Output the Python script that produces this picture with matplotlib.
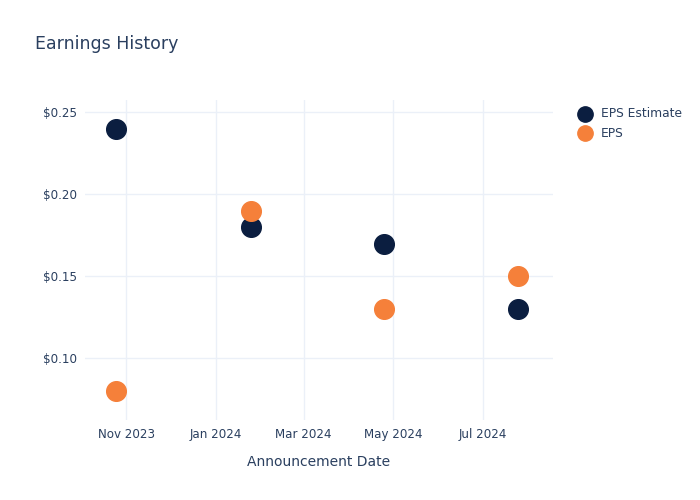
import numpy as np
import matplotlib.pyplot as plt
import matplotlib.dates as mdates
import matplotlib.ticker as mticker

dates = np.array(['2023-10-25', '2024-01-25', '2024-04-25', '2024-07-25'], dtype='datetime64[D]')
eps_estimate = [0.24, 0.18, 0.17, 0.13]
eps_actual = [0.08, 0.19, 0.13, 0.15]

text_color = '#2a3f5f'
grid_color = '#ebf0f8'

fig = plt.figure(figsize=(7, 5), dpi=100)
ax = fig.add_axes([85 / 700, 1 - 420 / 500, (553 - 85) / 700, (420 - 100) / 500])

ax.scatter(dates, eps_estimate, s=200, color='#0b1e40', label='EPS Estimate', zorder=3)
ax.scatter(dates, eps_actual, s=200, color='#f5803a', label='EPS', zorder=3)

ax.set_xlim(np.datetime64('2023-10-04'), np.datetime64('2024-08-18'))
ax.set_ylim(0.0625, 0.2575)
ax.set_yticks([0.10, 0.15, 0.20, 0.25])
ax.yaxis.set_major_formatter(mticker.FuncFormatter(lambda v, p: f'${v:.2f}'))
ax.xaxis.set_major_locator(mdates.MonthLocator(bymonth=[1, 3, 5, 7, 11]))
ax.xaxis.set_major_formatter(mdates.DateFormatter('%b %Y'))

ax.grid(True, color=grid_color, linewidth=1)
ax.set_axisbelow(True)
for s in ax.spines.values():
    s.set_visible(False)
ax.tick_params(length=0, labelsize=8.6, colors=text_color, pad=6)
ax.set_xlabel('Announcement Date', fontsize=10, color=text_color, labelpad=10)

fig.text(35 / 700, 1 - 44 / 500, 'Earnings History', fontsize=12.5, color=text_color, va='center')

leg = ax.legend(loc='upper left', bbox_to_anchor=(568 / 700, 1 - 102 / 500),
                bbox_transform=fig.transFigure, frameon=False, fontsize=8.8,
                markerscale=0.78, handletextpad=0.3, labelspacing=0.55, borderaxespad=0)
for t in leg.get_texts():
    t.set_color(text_color)

fig.savefig('out.png', dpi=100)
